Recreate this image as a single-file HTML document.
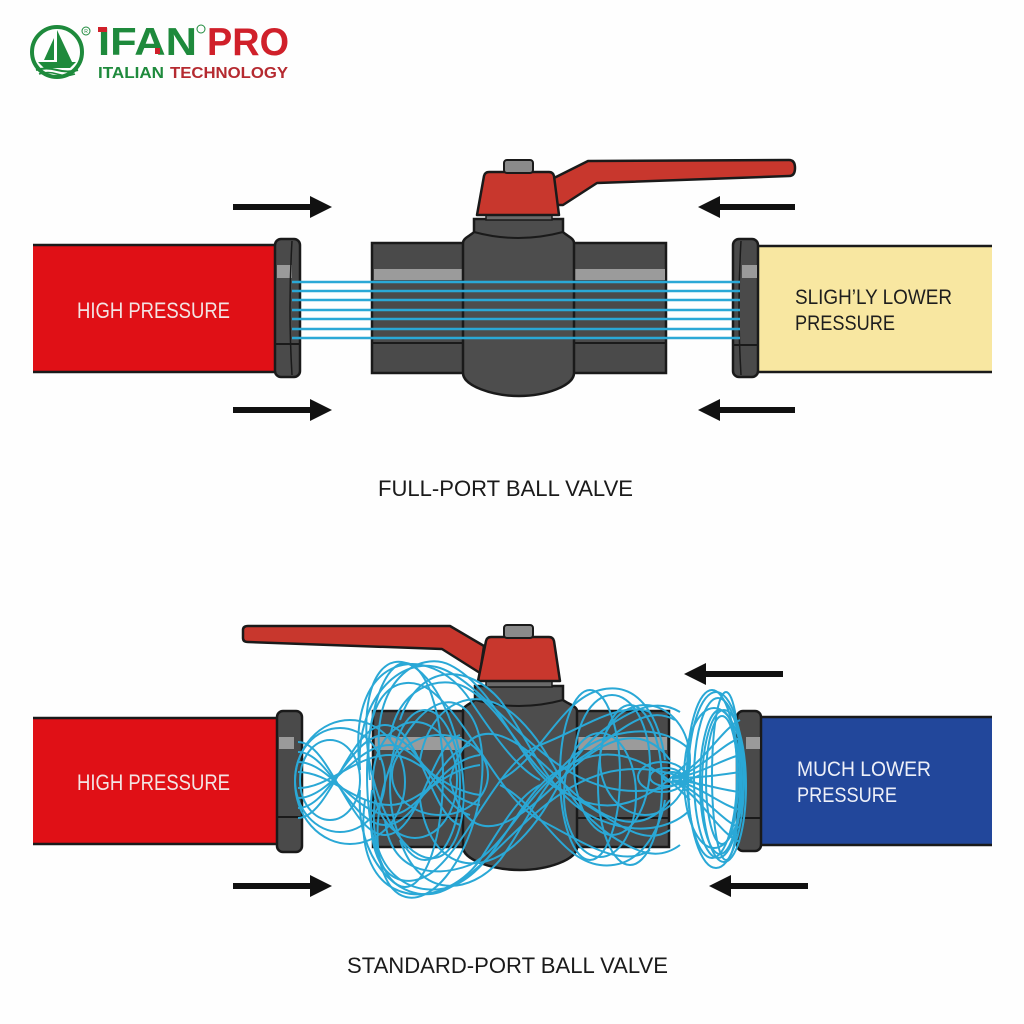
<!DOCTYPE html>
<html><head><meta charset="utf-8"><style>
html,body{margin:0;padding:0;background:#fff;}
svg{display:block;}
</style></head><body>
<svg width="1024" height="1024" viewBox="0 0 1024 1024" xmlns="http://www.w3.org/2000/svg">
<rect width="1024" height="1024" fill="#fefefe"/>

<!-- LOGO -->
<g>
<circle cx="57" cy="52" r="25" fill="none" stroke="#1e8a3c" stroke-width="4"/>
<path d="M57,30 L57,62 L72,62 Z" fill="#1e8a3c"/>
<path d="M54,38 L44,60 L54,60 Z" fill="#1e8a3c"/>
<path d="M38,62 L76,62 L70,68 L44,68 Z" fill="#1e8a3c"/>
<path d="M36,70 Q46,67 57,70 Q68,73 78,70" fill="none" stroke="#1e8a3c" stroke-width="2"/>
<path d="M39,74 Q48,71 57,74 Q66,77 75,74" fill="none" stroke="#1e8a3c" stroke-width="1.6"/>
<circle cx="86" cy="31" r="4" fill="none" stroke="#1e8a3c" stroke-width="1"/>
<text x="86" y="33" font-family="Liberation Sans, sans-serif" font-size="5" fill="#1e8a3c" text-anchor="middle">R</text>
<text x="98" y="55" font-family="Liberation Sans, sans-serif" font-weight="bold" font-size="39" fill="#1e8a3c" textLength="99" lengthAdjust="spacingAndGlyphs">IFAN</text>
<rect x="98" y="27" width="9" height="5" fill="#d0202a"/>
<rect x="155" y="48" width="5" height="6" fill="#d0202a"/>
<circle cx="201" cy="29" r="4" fill="none" stroke="#1e8a3c" stroke-width="1"/>
<text x="207" y="55" font-family="Liberation Sans, sans-serif" font-weight="bold" font-size="39" fill="#d0202a" textLength="82" lengthAdjust="spacingAndGlyphs">PRO</text>
<text x="98" y="78" font-family="Liberation Sans, sans-serif" font-weight="bold" font-size="16" fill="#1e8a3c" textLength="66" lengthAdjust="spacingAndGlyphs">ITALIAN</text>
<text x="170" y="78" font-family="Liberation Sans, sans-serif" font-weight="bold" font-size="16" fill="#b52a30" textLength="118" lengthAdjust="spacingAndGlyphs">TECHNOLOGY</text>
</g>

<!-- ============ TOP DIAGRAM ============ -->
<rect x="33" y="245" width="247" height="127" fill="#e01016"/>
<line x1="33" y1="245" x2="280" y2="245" stroke="#1a1a1a" stroke-width="2.5"/>
<line x1="33" y1="372" x2="280" y2="372" stroke="#1a1a1a" stroke-width="2.5"/>
<text x="77" y="318" font-family="Liberation Sans, sans-serif" font-size="22" fill="#f3e4e4" textLength="153" lengthAdjust="spacingAndGlyphs">HIGH PRESSURE</text>

<rect x="755" y="246" width="237" height="126" fill="#f8e7a1"/>
<line x1="755" y1="246" x2="992" y2="246" stroke="#1a1a1a" stroke-width="2.5"/>
<line x1="755" y1="372" x2="992" y2="372" stroke="#1a1a1a" stroke-width="2.5"/>
<text x="795" y="304" font-family="Liberation Sans, sans-serif" font-size="21" fill="#1e1e1e" textLength="157" lengthAdjust="spacingAndGlyphs">SLIGH’LY LOWER</text>
<text x="795" y="330" font-family="Liberation Sans, sans-serif" font-size="21" fill="#1e1e1e" textLength="100" lengthAdjust="spacingAndGlyphs">PRESSURE</text>

<rect x="275" y="239" width="25" height="138" rx="6" fill="#4a4a4a" stroke="#1a1a1a" stroke-width="2.5"/>
<rect x="277" y="265" width="15" height="13" fill="#9a9a9a"/>
<line x1="276" y1="344" x2="299" y2="344" stroke="#1a1a1a" stroke-width="2"/>
<path d="M292,241 Q288,308 292,375" fill="none" stroke="#1a1a1a" stroke-width="1.5"/>
<rect x="733" y="239" width="25" height="138" rx="6" fill="#4a4a4a" stroke="#1a1a1a" stroke-width="2.5"/>
<rect x="742" y="265" width="15" height="13" fill="#9a9a9a"/>
<line x1="734" y1="345" x2="757" y2="345" stroke="#1a1a1a" stroke-width="2"/>
<path d="M741,241 Q737,308 741,375" fill="none" stroke="#1a1a1a" stroke-width="1.5"/>

<rect x="372" y="243" width="294" height="130" fill="#4a4a4a" stroke="#1a1a1a" stroke-width="2.5"/>
<rect x="374" y="269" width="89" height="11" fill="#9b9b9b"/>
<rect x="574" y="269" width="91" height="11" fill="#9b9b9b"/>
<line x1="373" y1="343" x2="665" y2="343" stroke="#1a1a1a" stroke-width="2"/>
<path d="M550,180 L588,161 L789,160 Q795,160 795,168 Q795,176 789,176 L597,183 L563,205 L552,205 Z" fill="#c8372d" stroke="#1a1a1a" stroke-width="2.5" stroke-linejoin="round"/>
<path d="M463,243 C463,238 470,236 474,232 L474,219 L563,219 L563,232 C567,236 574,238 574,243 L574,373 C574,386 545,396 519,396 C493,396 463,386 463,373 Z" fill="#4d4d4d" stroke="#1a1a1a" stroke-width="2.5"/>
<path d="M474,232 Q518,244 563,232" fill="none" stroke="#1a1a1a" stroke-width="2"/>
<rect x="486" y="213" width="66" height="7" fill="#6a6a6a" stroke="#1a1a1a" stroke-width="1.5"/>
<path d="M477,215 L484,176 Q485,172 489,172 L549,172 Q553,172 554,176 L559,215 Z" fill="#c8372d" stroke="#1a1a1a" stroke-width="2.5" stroke-linejoin="round"/>
<rect x="504" y="160" width="29" height="13" rx="3" fill="#8a8a8a" stroke="#1a1a1a" stroke-width="2"/>

<g stroke="#2aa8d6" stroke-width="2.6">
<line x1="292" y1="282" x2="740" y2="282"/>
<line x1="292" y1="291" x2="740" y2="291"/>
<line x1="292" y1="300" x2="740" y2="300"/>
<line x1="292" y1="310" x2="740" y2="310"/>
<line x1="292" y1="319" x2="740" y2="319"/>
<line x1="292" y1="329" x2="740" y2="329"/>
<line x1="292" y1="338" x2="740" y2="338"/>
</g>

<g fill="#111" stroke="none">
<rect x="233" y="204" width="80" height="6"/><polygon points="310,196 332,207 310,218"/>
<rect x="233" y="407" width="80" height="6"/><polygon points="310,399 332,410 310,421"/>
<rect x="718" y="204" width="77" height="6"/><polygon points="720,196 698,207 720,218"/>
<rect x="718" y="407" width="77" height="6"/><polygon points="720,399 698,410 720,421"/>
</g>

<text x="378" y="496" font-family="Liberation Sans, sans-serif" font-size="22" fill="#1a1a1a" textLength="255" lengthAdjust="spacingAndGlyphs">FULL-PORT BALL VALVE</text>

<!-- ============ BOTTOM DIAGRAM ============ -->
<rect x="33" y="718" width="247" height="126" fill="#e01016"/>
<line x1="33" y1="718" x2="280" y2="718" stroke="#1a1a1a" stroke-width="2.5"/>
<line x1="33" y1="844" x2="280" y2="844" stroke="#1a1a1a" stroke-width="2.5"/>
<text x="77" y="790" font-family="Liberation Sans, sans-serif" font-size="22" fill="#f3e4e4" textLength="153" lengthAdjust="spacingAndGlyphs">HIGH PRESSURE</text>

<rect x="755" y="717" width="237" height="128" fill="#22479b"/>
<line x1="755" y1="717" x2="992" y2="717" stroke="#1a1a1a" stroke-width="2.5"/>
<line x1="755" y1="845" x2="992" y2="845" stroke="#1a1a1a" stroke-width="2.5"/>
<text x="797" y="776" font-family="Liberation Sans, sans-serif" font-size="21" fill="#eef0f8" textLength="134" lengthAdjust="spacingAndGlyphs">MUCH LOWER</text>
<text x="797" y="802" font-family="Liberation Sans, sans-serif" font-size="21" fill="#eef0f8" textLength="100" lengthAdjust="spacingAndGlyphs">PRESSURE</text>

<rect x="277" y="711" width="25" height="141" rx="6" fill="#4a4a4a" stroke="#1a1a1a" stroke-width="2.5"/>
<rect x="279" y="737" width="15" height="12" fill="#9a9a9a"/>
<line x1="278" y1="817" x2="301" y2="817" stroke="#1a1a1a" stroke-width="2"/>
<rect x="737" y="711" width="24" height="140" rx="6" fill="#4a4a4a" stroke="#1a1a1a" stroke-width="2.5"/>
<rect x="746" y="737" width="14" height="12" fill="#9a9a9a"/>
<line x1="738" y1="818" x2="760" y2="818" stroke="#1a1a1a" stroke-width="2"/>

<rect x="373" y="711" width="296" height="136" fill="#4a4a4a" stroke="#1a1a1a" stroke-width="2.5"/>
<rect x="375" y="737" width="88" height="13" fill="#9b9b9b"/>
<rect x="577" y="737" width="90" height="13" fill="#9b9b9b"/>
<line x1="374" y1="818" x2="668" y2="818" stroke="#1a1a1a" stroke-width="2"/>
<path d="M243,630 Q243,626 248,626 L450,626 L484,646 L480,673 L442,649 L248,642 Q243,642 243,638 Z" fill="#c8372d" stroke="#1a1a1a" stroke-width="2.5" stroke-linejoin="round"/>
<path d="M463,711 C463,706 470,704 475,700 L475,686 L563,686 L563,700 C568,704 577,706 577,711 L577,847 C577,860 547,870 520,870 C493,870 463,860 463,847 Z" fill="#4d4d4d" stroke="#1a1a1a" stroke-width="2.5"/>
<path d="M475,700 Q519,712 563,700" fill="none" stroke="#1a1a1a" stroke-width="2"/>
<rect x="486" y="680" width="66" height="7" fill="#6a6a6a" stroke="#1a1a1a" stroke-width="1.5"/>
<path d="M478,681 L486,641 Q487,637 491,637 L549,637 Q553,637 554,641 L560,681 Z" fill="#c8372d" stroke="#1a1a1a" stroke-width="2.5" stroke-linejoin="round"/>
<rect x="504" y="625" width="29" height="13" rx="3" fill="#8a8a8a" stroke="#1a1a1a" stroke-width="2"/>

<!-- turbulent flow -->
<g fill="none" stroke="#2aa8d6" stroke-width="2">
<path d="M298,742 C330,742 350,835 385,835 C420,835 430,745 460,735"/>
<path d="M298,752 C330,752 350,825 385,825 C420,825 435,755 470,745"/>
<path d="M298,762 C330,762 355,815 390,815 C420,815 440,760 480,755"/>
<path d="M298,772 C330,772 355,805 390,805 C420,805 440,770 480,765"/>
<path d="M298,818 C330,818 350,725 385,725 C420,725 430,815 460,825"/>
<path d="M298,808 C330,808 350,735 385,735 C420,735 435,805 470,815"/>
<path d="M298,798 C330,798 355,745 390,745 C420,745 440,800 480,805"/>
<path d="M298,788 C330,788 355,755 390,755 C420,755 440,790 480,795"/>
<ellipse cx="340" cy="780" rx="45" ry="52"/>
<ellipse cx="330" cy="780" rx="30" ry="40"/>
<ellipse cx="350" cy="782" rx="55" ry="62"/>
<ellipse cx="415" cy="780" rx="42" ry="58"/>
<ellipse cx="425" cy="785" rx="35" ry="75"/>
<ellipse cx="440" cy="775" rx="48" ry="40"/>
<ellipse cx="415" cy="760" rx="45" ry="100" transform="rotate(-12 415 760)"/>
<ellipse cx="430" cy="800" rx="48" ry="100" transform="rotate(14 430 800)"/>
<ellipse cx="405" cy="775" rx="38" ry="112"/>
<path d="M360,770 C345,650 430,640 470,700 C500,745 520,770 540,780"/>
<path d="M365,800 C350,910 440,915 480,860 C505,820 520,795 540,785"/>
<path d="M380,760 C370,680 420,650 450,665 C500,690 520,770 560,790 C610,815 640,850 670,830"/>
<path d="M375,800 C365,880 420,900 455,885 C500,865 520,790 560,770 C610,745 640,700 675,720"/>
<path d="M390,740 C395,690 440,670 470,690 C510,715 530,780 580,800 C630,820 670,780 690,760"/>
<path d="M385,820 C390,870 430,880 470,865 C510,845 530,780 580,760 C630,740 670,780 690,800"/>
<path d="M400,720 C420,660 470,665 500,700 C530,740 550,800 600,820 C650,840 680,820 690,810"/>
<path d="M400,840 C420,900 470,895 500,860 C530,820 550,760 600,740 C650,720 680,740 690,750"/>
<path d="M360,770 C355,700 400,655 440,668 C490,685 540,780 620,790 C660,795 690,780 700,775"/>
<path d="M360,790 C355,860 400,905 440,892 C490,875 540,780 620,770 C660,765 690,780 700,785"/>
<path d="M370,780 C360,690 400,670 430,690 C470,720 500,800 540,820 C580,840 620,870 650,850"/>
<path d="M372,790 C362,880 405,895 435,870 C470,840 500,760 540,745 C580,730 620,700 650,712"/>
<path d="M420,760 C430,700 480,680 520,720 C560,760 560,800 610,835 C640,855 660,860 680,845"/>
<path d="M420,800 C430,870 480,880 520,840 C560,800 560,760 610,725 C640,705 660,700 680,712"/>
<path d="M450,780 C470,700 520,740 560,780 C600,820 640,840 670,800"/>
<path d="M450,780 C470,860 520,820 560,780 C600,740 640,720 670,760"/>
<path d="M500,780 C540,760 560,700 600,690 C640,680 660,720 665,760"/>
<path d="M500,785 C540,805 560,860 600,865 C640,870 660,830 665,800"/>
<ellipse cx="612" cy="765" rx="38" ry="70"/>
<ellipse cx="630" cy="785" rx="32" ry="80"/>
<ellipse cx="600" cy="795" rx="36" ry="62"/>
<ellipse cx="645" cy="760" rx="45" ry="55"/>
<ellipse cx="590" cy="775" rx="30" ry="85"/>
<ellipse cx="662" cy="777" rx="24" ry="15"/>
<ellipse cx="666" cy="777" rx="16" ry="9"/>
<ellipse cx="672" cy="777" rx="9" ry="5"/>
<ellipse cx="716" cy="780" rx="28" ry="88"/>
<ellipse cx="718" cy="778" rx="24" ry="80"/>
<ellipse cx="720" cy="782" rx="20" ry="72"/>
<ellipse cx="722" cy="780" rx="16" ry="64"/>
<ellipse cx="712" cy="774" rx="25" ry="84"/>
<ellipse cx="724" cy="786" rx="22" ry="76"/>
<ellipse cx="714" cy="778" rx="30" ry="70"/>
<ellipse cx="726" cy="776" rx="14" ry="84"/>
<path d="M672,778 C700,770 720,730 740,720"/>
<path d="M672,778 C700,772 720,745 740,738"/>
<path d="M672,778 C700,775 720,760 740,755"/>
<path d="M672,778 C700,778 720,775 740,772"/>
<path d="M672,780 C700,782 720,790 740,792"/>
<path d="M672,780 C700,785 720,805 740,810"/>
<path d="M672,780 C700,790 720,820 740,828"/>
<path d="M672,780 C700,795 720,835 740,842"/>
</g>

<g fill="#111" stroke="none">
<rect x="233" y="883" width="80" height="6"/><polygon points="310,875 332,886 310,897"/>
<rect x="704" y="671" width="79" height="6"/><polygon points="706,663 684,674 706,685"/>
<rect x="729" y="883" width="79" height="6"/><polygon points="731,875 709,886 731,897"/>
</g>

<text x="347" y="973" font-family="Liberation Sans, sans-serif" font-size="22" fill="#1a1a1a" textLength="321" lengthAdjust="spacingAndGlyphs">STANDARD-PORT BALL VALVE</text>
</svg>
</body></html>
